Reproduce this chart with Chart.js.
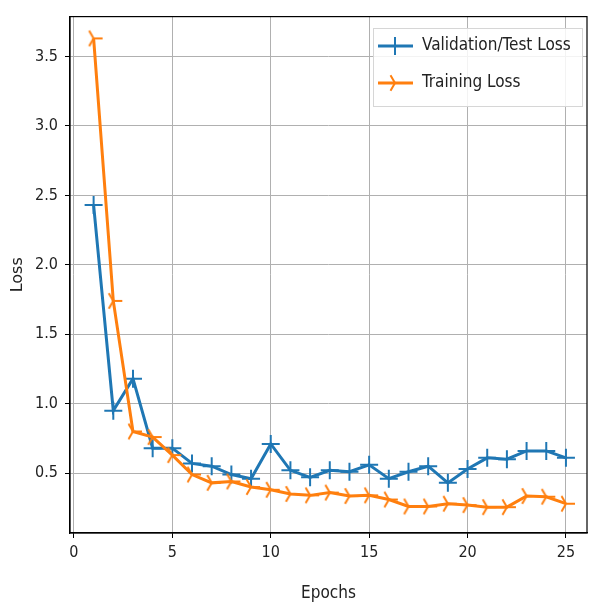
<!DOCTYPE html>
<html>
<head>
<meta charset="utf-8">
<style>
  body { margin: 0; background: #fff; }
  canvas { display: block; }
</style>
</head>
<body>
<canvas id="loss" width="590" height="605"></canvas>

<script src="https://cdn.jsdelivr.net/npm/chart.js"></script>

<script>
  // values
  const epochs = [1, 2, 3, 4, 5, 6, 7, 8, 9, 10, 11, 12, 13, 14, 15, 16, 17, 18, 19, 20, 21, 22, 23, 24, 25];
  const val_loss = [2.43, 0.95, 1.18, 0.68, 0.68, 0.57, 0.55, 0.49, 0.46, 0.71, 0.52, 0.47, 0.52, 0.51, 0.56,
                    0.46, 0.51, 0.55, 0.43, 0.53, 0.61, 0.60, 0.66, 0.66, 0.61];
  const train_loss = [3.63, 1.74, 0.80, 0.76, 0.63, 0.49, 0.43, 0.44, 0.40, 0.38, 0.35, 0.34, 0.36, 0.335, 0.34,
                      0.31, 0.26, 0.26, 0.28, 0.27, 0.255, 0.255, 0.335, 0.33, 0.28];
  const x_ticks = [0, 5, 10, 15, 20, 25];
  const y_ticks = [0.5, 1.0, 1.5, 2.0, 2.5, 3.0, 3.5];

  const BLUE = '#1f77b4';
  const ORANGE = '#ff7f0e';
  const NARROW = "'DejaVu Sans Condensed', 'Liberation Sans Narrow', 'DejaVu Sans', sans-serif";

  // matplotlib '4' marker (tri_right)
  function tri_right(color, r) {
    const c = document.createElement('canvas');
    c.width = c.height = 2 * r + 4;
    const ctx = c.getContext('2d');
    const m = r + 2;
    ctx.strokeStyle = color;
    ctx.lineWidth = 2;
    ctx.beginPath();
    ctx.moveTo(m, m); ctx.lineTo(m + r, m);
    ctx.moveTo(m, m); ctx.lineTo(m - r * 0.5, m - r * 0.866);
    ctx.moveTo(m, m); ctx.lineTo(m - r * 0.5, m + r * 0.866);
    ctx.stroke();
    return c;
  }
  const triMarker = tri_right(ORANGE, 9);

  // full box round the axes, like matplotlib spines
  const frame = {
    id: 'frame',
    afterDraw(chart) {
      const { ctx, chartArea: a } = chart;
      ctx.save();
      ctx.strokeStyle = '#000';
      ctx.lineWidth = 1.2;
      ctx.strokeRect(a.left, a.top, a.right - a.left, a.bottom - a.top);
      ctx.restore();
    }
  };

  // legend in upper right, line + marker sample
  const mplLegend = {
    id: 'mplLegend',
    afterDraw(chart) {
      const { ctx } = chart;
      const sets = chart.data.datasets;
      const x0 = 373, y0 = 28, w = 209, h = 78;
      ctx.save();
      ctx.fillStyle = 'rgba(255,255,255,0.85)';
      ctx.strokeStyle = '#d6d6d6';
      ctx.lineWidth = 1;
      ctx.fillRect(x0, y0, w, h);
      ctx.strokeRect(x0 + 0.5, y0 + 0.5, w, h);
      ctx.font = '17px ' + NARROW;
      ctx.textBaseline = 'middle';
      sets.forEach((ds, i) => {
        const y = y0 + 18 + i * 37;
        ctx.strokeStyle = ds.borderColor;
        ctx.lineWidth = 3;
        ctx.beginPath();
        ctx.moveTo(x0 + 5, y);
        ctx.lineTo(x0 + 40, y);
        ctx.stroke();
        const mx = x0 + 22;
        if (ds.pointStyle === 'cross') {
          ctx.lineWidth = 2;
          ctx.beginPath();
          ctx.moveTo(mx - 9, y); ctx.lineTo(mx + 9, y);
          ctx.moveTo(mx, y - 9); ctx.lineTo(mx, y + 9);
          ctx.stroke();
        } else {
          ctx.drawImage(ds.pointStyle, mx - ds.pointStyle.width / 2, y - ds.pointStyle.height / 2);
        }
        ctx.fillStyle = '#222';
        ctx.fillText(ds.label, x0 + 49, y);
      });
      ctx.restore();
    }
  };

  new Chart(document.getElementById('loss'), {
    type: 'line',
    data: {
      datasets: [
        {
          label: 'Validation/Test Loss',
          data: epochs.map((e, i) => ({ x: e, y: val_loss[i] })),
          borderColor: BLUE,
          backgroundColor: BLUE,
          borderWidth: 3,
          pointStyle: 'cross',
          pointRadius: 9,
          pointBorderWidth: 2,
          order: 1
        },
        {
          label: 'Training Loss',
          data: epochs.map((e, i) => ({ x: e, y: train_loss[i] })),
          borderColor: ORANGE,
          backgroundColor: ORANGE,
          borderWidth: 3,
          pointStyle: triMarker,
          pointRadius: 9,
          order: 0
        }
      ]
    },
    options: {
      responsive: false,
      animation: false,
      layout: { autoPadding: false, padding: { top: 15, right: 3, left: 0, bottom: 0 } },
      plugins: {
        legend: { display: false },
        tooltip: { enabled: false }
      },
      scales: {
        x: {
          type: 'linear',
          min: -0.2,
          max: 26.07,
          afterBuildTicks: s => { s.ticks = x_ticks.map(v => ({ value: v })); },
          afterFit: s => { s.height = 72; s.paddingLeft = 0; s.paddingRight = 0; },
          grid: { color: '#b0b0b0', lineWidth: 1, tickColor: '#000', tickLength: 5 },
          border: { color: '#000', width: 1.2 },
          ticks: { color: '#222', font: { family: NARROW, size: 16 }, padding: 5, maxRotation: 0 },
          title: { display: true, text: 'Epochs', color: '#222', font: { family: NARROW, size: 17 }, padding: { top: 0, bottom: 1 } }
        },
        y: {
          type: 'linear',
          min: 0.069,
          max: 3.787,
          afterBuildTicks: s => { s.ticks = y_ticks.map(v => ({ value: v })); },
          afterFit: s => { s.width = 70; },
          grid: { color: '#b0b0b0', lineWidth: 1, tickColor: '#000', tickLength: 5 },
          border: { color: '#000', width: 1.2 },
          ticks: { color: '#222', font: { family: NARROW, size: 16 }, padding: 7, callback: v => v.toFixed(1) },
          title: { display: true, text: 'Loss', color: '#222', font: { family: "'DejaVu Sans', sans-serif", size: 16 }, padding: { top: 8, bottom: 0 } }
        }
      }
    },
    plugins: [frame, mplLegend]
  });
</script>
</body>
</html>
